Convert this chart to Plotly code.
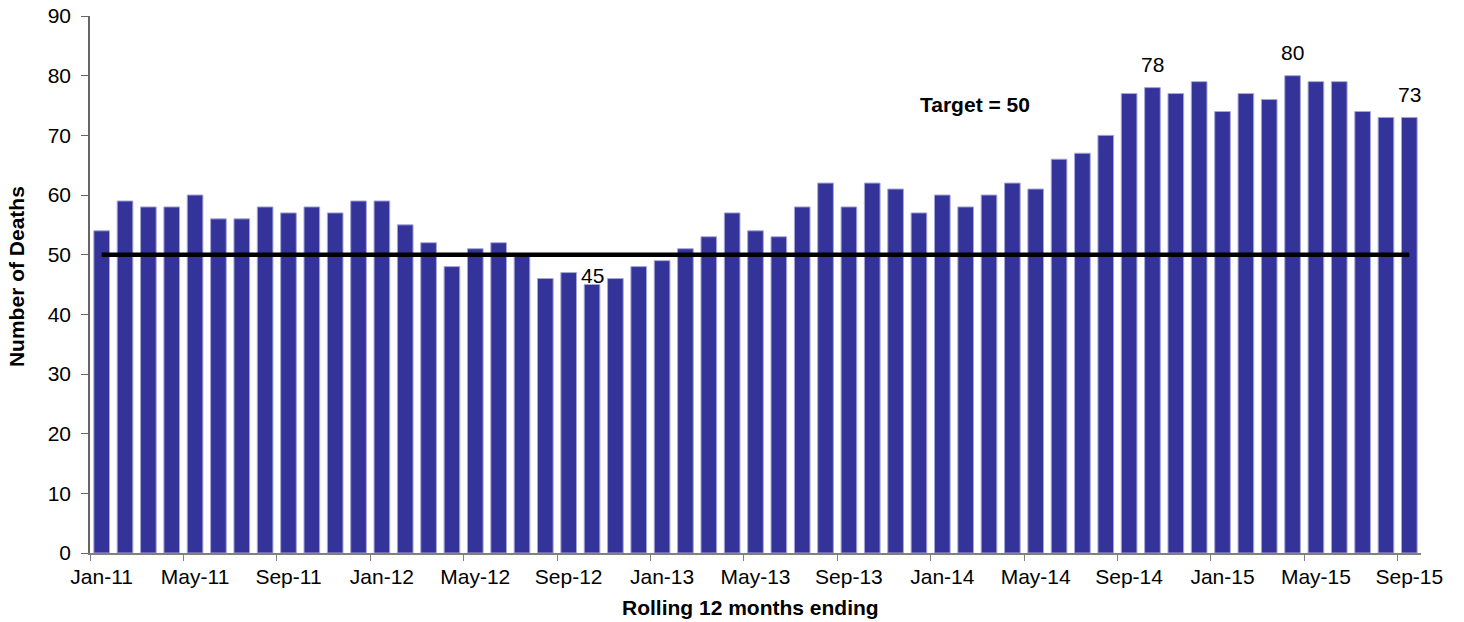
import plotly.graph_objects as go

months = ["Jan", "Feb", "Mar", "Apr", "May", "Jun", "Jul", "Aug", "Sep", "Oct", "Nov", "Dec"]
categories = [f"{m}-{y}" for y in range(11, 16) for m in months][:57]

deaths = [54, 59, 58, 58, 60, 56, 56, 58, 57, 58, 57, 59,
          59, 55, 52, 48, 51, 52, 50, 46, 47, 45, 46, 48,
          49, 51, 53, 57, 54, 53, 58, 62, 58, 62, 61, 57,
          60, 58, 60, 62, 61, 66, 67, 70, 77, 78, 77, 79,
          74, 77, 76, 80, 79, 79, 74, 73, 73]
target = [50] * len(categories)
labelled = ["Oct-12", "Oct-14", "Apr-15", "Sep-15"]

FONT = "Arial, Liberation Sans, sans-serif"
FS = 21

fig = go.Figure()
fig.add_trace(go.Bar(
    x=categories, y=deaths,
    marker=dict(color="#333399", line=dict(color="#a6a6d8", width=1)),
    showlegend=False,
))
fig.add_trace(go.Scatter(
    x=categories, y=target, mode="lines",
    line=dict(color="#000000", width=4.5),
    showlegend=False,
))

for c, v, t in zip(categories, deaths, target):
    if c in labelled:
        fig.add_annotation(
            x=c, y=v, xref="x", yref="y", text=str(v), showarrow=False,
            yanchor="middle", yshift=9 if v < t else 23,
            font=dict(family=FONT, size=FS, color="#000000"),
        )

fig.add_annotation(
    x=37.4, y=75.2, xref="x", yref="y", text="<b>Target = 50</b>",
    showarrow=False, font=dict(family=FONT, size=FS, color="#000000"),
)

# axis titles
fig.add_annotation(
    x=-0.0548, y=0.514, xref="paper", yref="paper", text="<b>Number of Deaths</b>",
    textangle=-90, showarrow=False, xanchor="center", yanchor="middle",
    font=dict(family=FONT, size=FS, color="#000000"),
)
fig.add_annotation(
    x=0.4959, y=-0.1006, xref="paper", yref="paper", text="<b>Rolling 12 months ending</b>",
    showarrow=False, xanchor="center", yanchor="middle",
    font=dict(family=FONT, size=FS, color="#000000"),
)

fig.update_layout(
    width=1464, height=622,
    margin=dict(l=90, r=43, t=16, b=69),
    plot_bgcolor="white", paper_bgcolor="white",
    bargap=0.33,
    font=dict(family=FONT, size=FS, color="#000000"),
    xaxis=dict(
        type="category", tickmode="linear", tick0=0, dtick=4, tickangle=0,
        tickson="boundaries", ticks="outside", ticklen=6, tickcolor="#808080",
        showline=True, linecolor="#808080", linewidth=2,
        showgrid=False, range=[-0.5, 56.5], automargin=False,
        ticklabelstandoff=4,
        tickfont=dict(family=FONT, size=FS),
    ),
    yaxis=dict(
        range=[0, 90], dtick=10, ticks="outside", ticklen=7, tickcolor="#666666",
        showline=True, linecolor="#666666", linewidth=1.5,
        showgrid=False, zeroline=False, automargin=False,
        ticklabelstandoff=6,
        tickfont=dict(family=FONT, size=FS),
    ),
)

fig.write_html("out.html", config={"displayModeBar": False},
               post_script="document.body.style.margin='0';")
